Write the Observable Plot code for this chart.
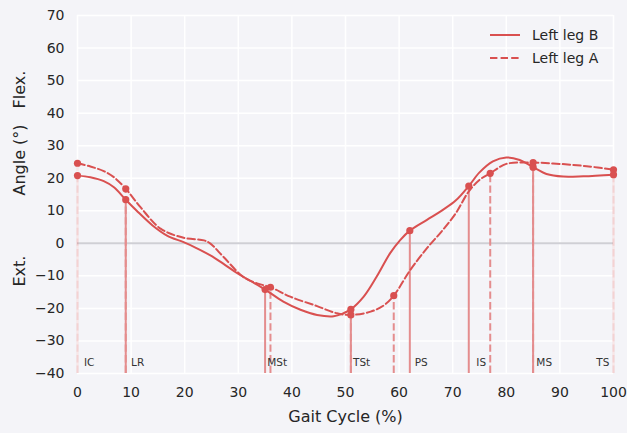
<!DOCTYPE html>
<html>
<head>
<meta charset="utf-8">
<script src="https://cdn.jsdelivr.net/npm/d3@7"></script>
<script src="https://cdn.jsdelivr.net/npm/@observablehq/plot@0.6"></script>
<style>
  html, body { margin: 0; padding: 0; background: #f4f4f8; }
  #wrap { position: relative; width: 627px; height: 433px; font-family: "DejaVu Sans", sans-serif; color: #262626; }
  #legend { position: absolute; left: 490px; top: 24px; font-size: 14px; line-height: 22.5px; }
  #legend .row { display: flex; align-items: center; height: 22.5px; }
  #legend svg { margin-right: 12px; }
</style>
</head>
<body>
<div id="wrap">
  <div id="chart"></div>
  <div id="legend"></div>
</div>
<script>
// ---- data ----
const seriesNames = ["Left leg B", "Left leg A"];

const pctB   = [0, 2.4, 4.9, 6.8, 9, 11, 14, 16.7, 19.8, 22, 24.8, 27.5, 29.8, 32.2, 35, 38.4, 41.6, 44.7, 47.8, 49.6, 51, 53.4, 55.8, 58.3, 60.2, 62, 65.2, 68.1, 70.6, 73, 75, 77.5, 80, 82.5, 85, 87.5, 90.6, 94.4, 100];
const angleB = [20.8, 20.3, 19.1, 17.2, 13.4, 10.1, 5.5, 2.4, 0.35, -1.3, -3.7, -6.6, -9.2, -11.5, -14.2, -17.9, -20.4, -22, -22.4, -21.5, -20.3, -16.4, -10.3, -3.1, 1, 3.9, 7.2, 10.2, 13.2, 17.6, 21.8, 25.2, 26.4, 25.6, 23.4, 21.3, 20.5, 20.6, 21.1];

const pctA   = [0, 2.4, 4.9, 6.8, 9, 11.75, 15.5, 19.8, 23.6, 24.8, 27.3, 31, 33.5, 36, 39.7, 44.7, 48.4, 51, 54.7, 57.2, 59, 62, 65.2, 68, 70.6, 72.9, 75, 77, 80, 85, 90, 95, 100];
const angleA = [24.6, 23.6, 22.2, 20.3, 16.75, 11.1, 4.5, 1.7, 0.9, -0.1, -4.3, -10.4, -12.3, -13.5, -16.4, -19.3, -21.5, -22, -21, -19, -16.1, -8.4, -1.5, 3.8, 9.3, 15.7, 19.5, 21.5, 24.4, 24.8, 24.4, 23.7, 22.6];

// gait events (x = % of cycle, y = angle at the event)
const eventPctB   = [0, 9, 35, 51, 62, 73, 85, 100];
const eventAngleB = [20.8, 13.4, -14.2, -20.3, 3.9, 17.6, 23.4, 21.1];
const eventPctA   = [0, 9, 36, 51, 59, 77, 85, 100];
const eventAngleA = [24.6, 16.75, -13.5, -22, -16.1, 21.5, 24.8, 22.6];

const phaseLabels = ["IC", "LR", "MSt", "TSt", "PS", "IS", "MS", "TS"];
const phaseLabelPct = [1.2, 10, 35.4, 51.4, 62.9, 74.4, 85.6, 96.8];

const xTicks = [0, 10, 20, 30, 40, 50, 60, 70, 80, 90, 100];
const yTicks = [-40, -30, -20, -10, 0, 10, 20, 30, 40, 50, 60, 70];
const xDomain = [0, 100];
const yDomain = [-40, 70];

// ---- build tables ----
const lineB = pctB.map((x, i) => ({x, y: angleB[i]}));
const lineA = pctA.map((x, i) => ({x, y: angleA[i]}));
const evB = eventPctB.map((x, i) => ({x, y: eventAngleB[i]}));
const evA = eventPctA.map((x, i) => ({x, y: eventAngleA[i]}));
const phases = phaseLabels.map((t, i) => ({t, x: phaseLabelPct[i]}));

const RED = "#d95050";
const RULE = "#e48d8e";
const DASH = "7.4,3.2";
const edgeOpacity = d => (d.x === xDomain[0] || d.x === xDomain[1]) ? 0.22 : 1;

const chart = Plot.plot({
  width: 627,
  height: 433,
  marginLeft: 77,
  marginRight: 14,
  marginTop: 15,
  marginBottom: 60,
  style: {background: "transparent", fontFamily: "DejaVu Sans", fontSize: "14px", color: "#262626", overflow: "visible"},
  x: {domain: xDomain},
  y: {domain: yDomain},
  marks: [
    Plot.gridX(xTicks, {stroke: "white", strokeOpacity: 1, strokeWidth: 1.5}),
    Plot.gridY(yTicks, {stroke: "white", strokeOpacity: 1, strokeWidth: 1.5}),
    Plot.ruleY([0], {stroke: "#cfcfd5", strokeWidth: 2}),
    Plot.axisX(xTicks, {tickSize: 0, tickPadding: 14, label: null, fontSize: 14}),
    Plot.axisY(yTicks, {tickSize: 0, tickPadding: 13, label: null, fontSize: 14}),
    Plot.text(["Angle (°)"], {frameAnchor: "left", dx: -58, dy: 1, rotate: -90, fontSize: 16}),
    Plot.text(["Flex."], {frameAnchor: "left", dx: -58, dy: -86, rotate: -90, fontSize: 16}),
    Plot.text(["Ext."], {frameAnchor: "left", dx: -58, dy: 92, rotate: -90, fontSize: 16}),
    Plot.text(["Gait Cycle (%)"], {frameAnchor: "bottom", dy: 48, fontSize: 16}),
    // event rules
    Plot.ruleX(evA, {x: "x", y1: yDomain[0], y2: "y", stroke: RULE, strokeWidth: 2, strokeDasharray: DASH, strokeOpacity: edgeOpacity}),
    Plot.ruleX(evB, {x: "x", y1: yDomain[0], y2: "y", stroke: RULE, strokeWidth: 2, strokeOpacity: edgeOpacity}),
    // phase labels
    Plot.text(phases, {x: "x", text: "t", frameAnchor: "bottom", dy: -8, textAnchor: "start", fontSize: 10.5, fill: "#333"}),
    // curves
    Plot.line(lineA, {x: "x", y: "y", stroke: RED, strokeWidth: 2, strokeDasharray: DASH, curve: "catmull-rom"}),
    Plot.line(lineB, {x: "x", y: "y", stroke: RED, strokeWidth: 2, curve: "catmull-rom"}),
    Plot.dot(evA, {x: "x", y: "y", r: 3.6, fill: RED}),
    Plot.dot(evB, {x: "x", y: "y", r: 3.6, fill: RED})
  ]
});
document.getElementById("chart").appendChild(chart);

// legend
const legend = d3.select("#legend");
seriesNames.forEach((name, i) => {
  const row = legend.append("div").attr("class", "row");
  const s = row.append("svg").attr("width", 30).attr("height", 10);
  s.append("line").attr("x1", 0).attr("x2", 30).attr("y1", 5).attr("y2", 5)
    .attr("stroke", RED).attr("stroke-width", 2)
    .attr("stroke-dasharray", i === 1 ? DASH : null);
  row.append("span").text(name);
});
</script>
</body>
</html>
